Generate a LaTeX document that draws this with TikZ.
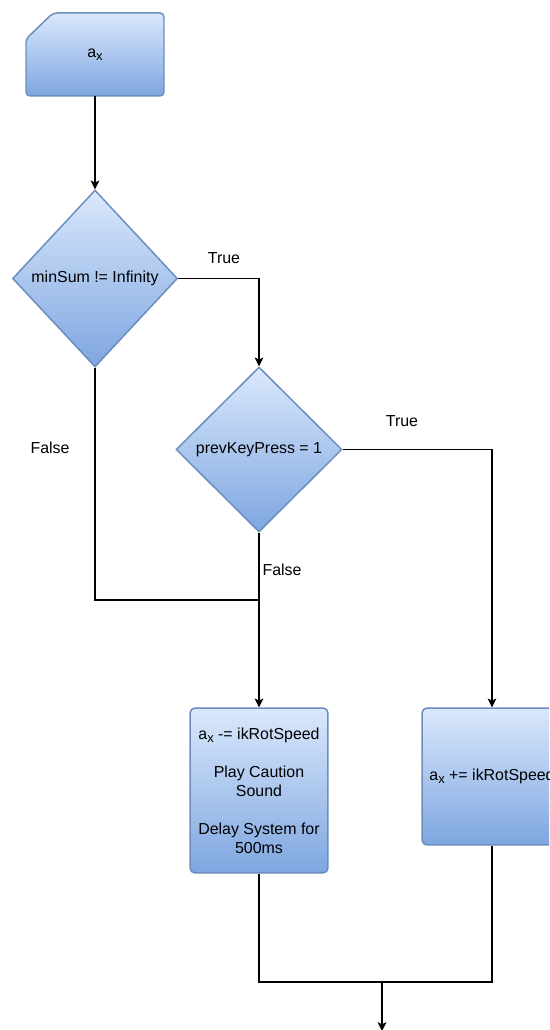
\documentclass[tikz,border=0pt]{standalone}
\usepackage{fontspec}
\setmainfont{Liberation Sans}
\usetikzlibrary{shapes.geometric,arrows.meta}
\definecolor{boxtop}{HTML}{DAE8FC}
\definecolor{boxbot}{HTML}{7EA6E0}
\definecolor{boxline}{HTML}{6C8EBF}
\newcommand{\asx}{a\raisebox{-0.4ex}{\fontsize{7.4}{8}\selectfont x}}

\begin{document}
\begin{tikzpicture}[x=0.02cm,y=-0.02cm,
  every node/.style={font=\fontsize{9.07}{10.8}\selectfont},
  vulling/.style={draw=boxline,line width=0.85pt,top color=boxtop,bottom color=boxbot},
  blok/.style={vulling,rounded corners=0.1cm,align=center,inner sep=0pt},
  keuze/.style={vulling,diamond,inner sep=0pt},
  pijl/.style={-{Stealth[length=5pt,width=5pt,inset=1.2pt]},line width=0.6pt},
  lijn/.style={line width=0.6pt}]
\useasboundingbox (0,0) rectangle (549,1030);
\clip (0,0) rectangle (549,1030);

\shadedraw[vulling,rounded corners=0.08cm] (53,13) -- (164,13) -- (164,96) -- (26,96) -- (26,39) -- cycle;
\node[minimum width=2.76cm,minimum height=1.66cm,inner sep=0pt] (ax) at (95,54.5) {\asx};

\node[keuze,minimum width=3.3cm,minimum height=3.54cm] (som) at (95,278.5) {minSum != Infinity};
\node[keuze,minimum width=3.32cm,minimum height=3.3cm] (toets) at (259,449.5) {prevKeyPress = 1};

\node[blok,minimum width=2.76cm,minimum height=3.3cm] (links) at (259,790.5)
  {\asx{} -= ikRotSpeed\\[10.8pt]Play Caution\\Sound\\[10.8pt]Delay System for\\500ms};
\node[blok,minimum width=2.8cm,minimum height=2.74cm] (rechts) at (492,776.5) {\asx{} += ikRotSpeed};

\coordinate (samen) at (259,600);
\coordinate (onder) at (382,982);
\coordinate (uit) at (382,1031);

\draw[pijl] (ax) -- (som);
\draw[pijl] (som.east) -| (toets.north);
\draw[pijl] (toets.east) -| (rechts.north);
\draw[lijn] (som.south) |- (samen);
\draw[pijl] (toets.south) -- (links.north);
\draw[lijn] (links.south) |- (onder);
\draw[lijn] (rechts.south) |- (onder);
\draw[pijl] (onder) -- (uit);

\node (waar1) at (224,258) {True};
\node (waar2) at (402,421) {True};
\node (onwaar1) at (50,448) {False};
\node (onwaar2) at (282,570) {False};
\end{tikzpicture}
\end{document}
